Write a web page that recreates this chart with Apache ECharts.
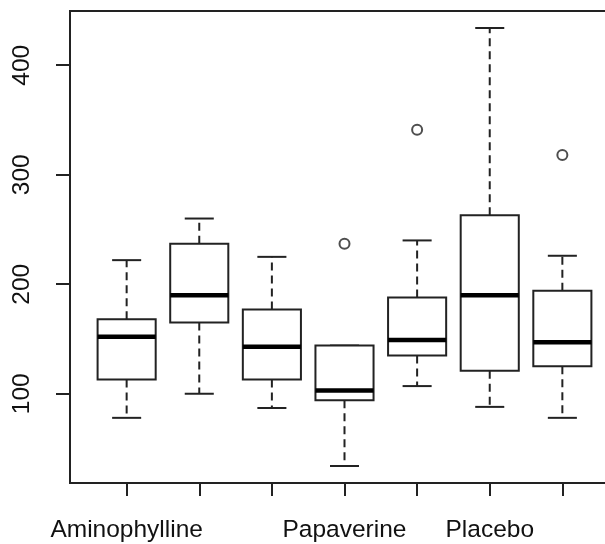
<!DOCTYPE html>
<html lang="en">
<head>
    <meta charset="UTF-8">
    <title>Boxplot</title>
    <style>
      html, body { margin: 0; padding: 0; background: #fff; }
    </style>
</head>
<body>

    <div id="main" style="width: 605px; height: 544px;"></div>
    <script src="https://cdn.jsdelivr.net/npm/echarts@6/dist/echarts.min.js"></script>
    <script>
      // only some group names fit under the axis, the rest are left blank
      const tickLabels = ['Aminophylline', '', '', 'Papaverine', '', 'Placebo', ''];
      const whiskerLow = [78, 100, 87, 34, 107, 88, 78];
      const q1 = [113, 165, 113, 94, 135, 121, 125];
      const median = [152, 190, 143, 103, 149, 190, 147];
      const q3 = [168, 237, 177, 144, 188, 263, 194];
      const whiskerHigh = [222, 260, 225, 144, 240, 434, 226];
      const outliers = [[4, 237], [5, 341], [7, 318]];
      const yTicks = [100, 200, 300, 400];

      var chartDom = document.getElementById('main');
      var myChart = echarts.init(chartDom);
      var option;

      const boxRows = tickLabels.map(function (name, i) {
        return [i + 1, whiskerLow[i], q1[i], median[i], q3[i], whiskerHigh[i]];
      });

      const ink = '#222';

      function renderBox(params, api) {
        const x = api.value(0);
        const unit = api.size([1, 0])[0];
        const half = unit * 0.4;
        const staple = unit * 0.2;
        const cx = api.coord([x, 0])[0];
        const yLo = api.coord([x, api.value(1)])[1];
        const yQ1 = api.coord([x, api.value(2)])[1];
        const yMed = api.coord([x, api.value(3)])[1];
        const yQ3 = api.coord([x, api.value(4)])[1];
        const yHi = api.coord([x, api.value(5)])[1];
        const dash = { stroke: ink, lineWidth: 2, lineDash: [8, 5] };
        const solid = { stroke: ink, lineWidth: 2 };
        return {
          type: 'group',
          children: [
            { type: 'line', shape: { x1: cx, y1: yQ1, x2: cx, y2: yLo }, style: dash },
            { type: 'line', shape: { x1: cx, y1: yQ3, x2: cx, y2: yHi }, style: dash },
            { type: 'line', shape: { x1: cx - staple, y1: yLo, x2: cx + staple, y2: yLo }, style: solid },
            { type: 'line', shape: { x1: cx - staple, y1: yHi, x2: cx + staple, y2: yHi }, style: solid },
            { type: 'rect', shape: { x: cx - half, y: yQ3, width: half * 2, height: yQ1 - yQ3 },
              style: { fill: '#fff', stroke: ink, lineWidth: 2 } },
            { type: 'line', shape: { x1: cx - half, y1: yMed, x2: cx + half, y2: yMed },
              style: { stroke: '#000', lineWidth: 4.5 } }
          ]
        };
      }

      option = {
        animation: false,
        backgroundColor: '#fff',
        textStyle: { fontFamily: 'Liberation Sans' },
        grid: {
          left: 70,
          top: 11,
          width: 549,
          height: 472,
          show: true,
          borderColor: ink,
          borderWidth: 2,
          backgroundColor: 'transparent',
          containLabel: false,
          outerBoundsMode: 'none'
        },
        xAxis: {
          type: 'value',
          min: 0.22,
          max: 7.78,
          axisLine: { show: false },
          splitLine: { show: false },
          axisTick: {
            show: true,
            length: 13,
            customValues: [1, 2, 3, 4, 5, 6, 7],
            lineStyle: { color: ink, width: 2 }
          },
          axisLabel: {
            customValues: [1, 2, 3, 4, 5, 6, 7],
            margin: 35,
            fontSize: 24.5,
            color: '#111',
            fontFamily: 'Liberation Sans',
            hideOverlap: false,
            formatter: function (v) { return tickLabels[Math.round(v) - 1] || ''; }
          }
        },
        yAxis: {
          type: 'value',
          min: 18.5,
          max: 449.5,
          axisLine: { show: false },
          splitLine: { show: false },
          axisTick: {
            show: true,
            length: 14,
            customValues: yTicks,
            lineStyle: { color: ink, width: 2 }
          },
          axisLabel: {
            customValues: yTicks,
            rotate: 90,
            margin: 35,
            fontSize: 24.5,
            color: '#111',
            fontFamily: 'Liberation Sans'
          }
        },
        series: [
          {
            type: 'custom',
            renderItem: renderBox,
            encode: { x: 0, y: [1, 2, 3, 4, 5] },
            data: boxRows
          },
          {
            type: 'scatter',
            symbol: 'circle',
            symbolSize: 10,
            itemStyle: { color: '#fff', borderColor: ink, borderWidth: 2 },
            data: outliers
          }
        ]
      };

      option && myChart.setOption(option);
    </script>
</body>
</html>
